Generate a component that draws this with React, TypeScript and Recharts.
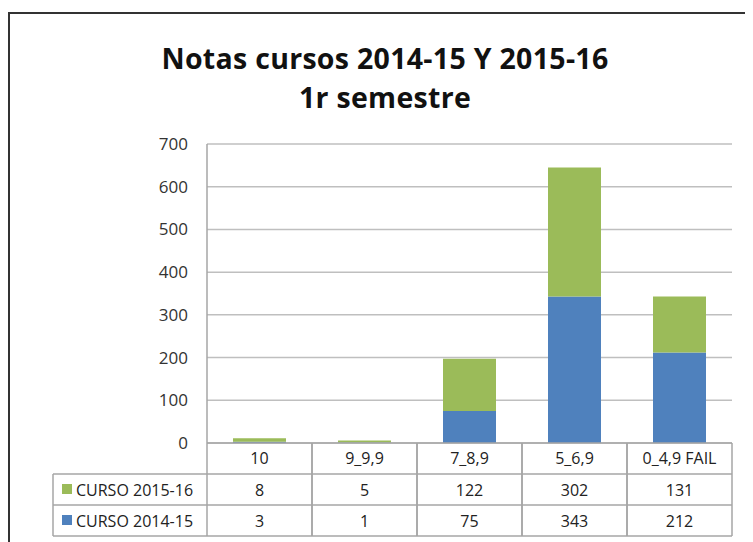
import React from "react";
import { Bar, BarChart, CartesianGrid, XAxis, YAxis } from "recharts";

const categories = ["10", "9_9,9", "7_8,9", "5_6,9", "0_4,9 FAIL"];
const curso1415 = [3, 1, 75, 343, 212];
const curso1516 = [8, 5, 122, 302, 131];
const yTicks = [0, 100, 200, 300, 400, 500, 600, 700];

const SERIES = [
  { key: "c1516", name: "CURSO 2015-16", color: "#9BBB59", values: curso1516 },
  { key: "c1415", name: "CURSO 2014-15", color: "#4F81BD", values: curso1415 },
];

const W = 745;
const H = 534;
const Y_AXIS_W = 199;
const RIGHT = 21;
const BAND = (W - Y_AXIS_W - RIGHT) / categories.length;
const ROW_H = 31;
const TABLE_LEFT = 45;
const LINE = "#a6a6a6";
const FONT = "'Open Sans', sans-serif";
const TABLE_FS = 16;

const data = categories.map((name, i) => ({
  name,
  c1415: curso1415[i],
  c1516: curso1516[i],
}));

function TableTick(props: any) {
  const { x, y, payload } = props;
  const i = payload.index;
  const left = x - BAND / 2;
  const right = x + BAND / 2;
  return (
    <g>
      <line x1={left} x2={left} y1={y} y2={y + ROW_H * 3} stroke={LINE} strokeWidth={1.5} />
      <line x1={right} x2={right} y1={y} y2={y + ROW_H * 3} stroke={LINE} strokeWidth={1.5} />
      {[1, 2, 3].map((r) => (
        <line key={r} x1={left} x2={right} y1={y + ROW_H * r} y2={y + ROW_H * r} stroke={LINE} strokeWidth={1.5} />
      ))}
      <text x={x} y={y + 21} textAnchor="middle" fontSize={TABLE_FS} fill="#222" fontFamily={FONT}>
        {payload.value}
      </text>
      {SERIES.map((s, r) => (
        <text key={s.key} x={x} y={y + ROW_H * (r + 1) + 22} textAnchor="middle" fontSize={TABLE_FS} fill="#222" fontFamily={FONT}>
          {s.values[i]}
        </text>
      ))}
      {i === 0 && (
        <g>
          <line x1={TABLE_LEFT} x2={TABLE_LEFT} y1={y + ROW_H} y2={y + ROW_H * 3} stroke={LINE} strokeWidth={1.5} />
          {[1, 2, 3].map((r) => (
            <line key={r} x1={TABLE_LEFT} x2={left} y1={y + ROW_H * r} y2={y + ROW_H * r} stroke={LINE} strokeWidth={1.5} />
          ))}
          {SERIES.map((s, r) => (
            <g key={s.key}>
              <rect x={TABLE_LEFT + 9} y={y + ROW_H * (r + 1) + 10} width={10} height={10} fill={s.color} />
              <text x={TABLE_LEFT + 23} y={y + ROW_H * (r + 1) + 22} fontSize={TABLE_FS} fill="#222" fontFamily={FONT}>
                {s.name}
              </text>
            </g>
          ))}
        </g>
      )}
    </g>
  );
}

export default function App() {
  return (
    <div style={{ width: W, height: H, position: "relative", background: "#fff" }}>
      <svg width={W} height={H} style={{ position: "absolute", left: 0, top: 0 }}>
        <line x1={1} x2={W} y1={5} y2={5} stroke="#333" strokeWidth={2} />
        <line x1={1} x2={1} y1={4} y2={H} stroke="#333" strokeWidth={2} />
        <text x={377} y={61} textAnchor="middle" fontSize={28.5} fontWeight="bold" fill="#111" fontFamily={FONT} letterSpacing={0.3}>
          Notas cursos 2014-15 Y 2015-16
        </text>
        <text x={377} y={100} textAnchor="middle" fontSize={28.5} fontWeight="bold" fill="#111" fontFamily={FONT} letterSpacing={0.3}>
          1r semestre
        </text>
      </svg>
      <div style={{ position: "absolute", left: 0, top: 0 }}>
        <BarChart width={W} height={H} data={data} margin={{ top: 136, right: RIGHT, bottom: 0, left: 0 }}>
          <CartesianGrid vertical={false} stroke="#bfbfbf" strokeWidth={1.5} />
          <XAxis
            dataKey="name"
            height={99}
            tickLine={false}
            tickSize={0}
            tickMargin={0}
            interval={0}
            axisLine={{ stroke: LINE, strokeWidth: 1.5 }}
            tick={<TableTick />}
          />
          <YAxis
            width={Y_AXIS_W}
            domain={[0, 700]}
            ticks={yTicks}
            tickLine={false}
            tickSize={0}
            tickMargin={19}
            axisLine={{ stroke: LINE, strokeWidth: 1.5 }}
            tick={{ fontSize: 17, fill: "#333", fontFamily: FONT }}
          />
          <Bar dataKey="c1415" name="CURSO 2014-15" stackId="a" fill="#4F81BD" barSize={53} isAnimationActive={false} />
          <Bar dataKey="c1516" name="CURSO 2015-16" stackId="a" fill="#9BBB59" barSize={53} isAnimationActive={false} />
        </BarChart>
      </div>
    </div>
  );
}
